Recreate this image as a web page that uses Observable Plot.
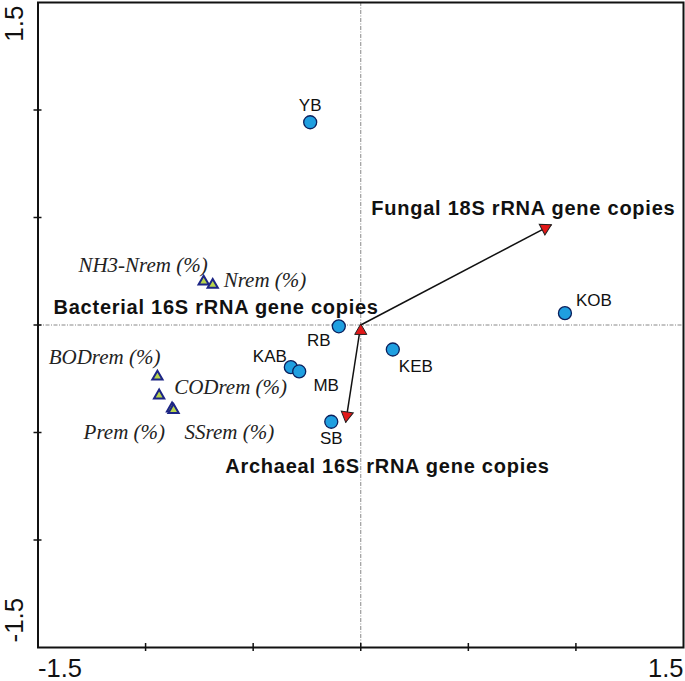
<!DOCTYPE html>
<html><head><meta charset="utf-8">
<script src="https://cdn.jsdelivr.net/npm/d3@7"></script>
<script src="https://cdn.jsdelivr.net/npm/@observablehq/plot@0.6"></script>
<style>body{margin:0;background:#fff} #chart svg{display:block}</style>
</head><body><div id="chart"></div>
<script>
// Sites (circles)
const sites = ["YB", "RB", "KAB", "MB", "KEB", "KOB", "SB"];
const siteX = [-0.235, -0.102, -0.325, -0.286, 0.149, 0.949, -0.137];
const siteY = [0.943, -0.006, -0.196, -0.216, -0.114, 0.055, -0.450];

// Environmental variables (triangles)
const envVars = ["NH3-Nrem (%)", "Nrem (%)", "BODrem (%)", "CODrem (%)", "Prem (%)", "SSrem (%)"];
const envX = [-0.730, -0.688, -0.945, -0.937, -0.877, -0.870];
const envY = [0.202, 0.187, -0.240, -0.328, -0.388, -0.395];

// Gene copy vectors (arrows)
const genes = ["Bacterial 16S rRNA gene copies", "Fungal 18S rRNA gene copies", "Archaeal 16S rRNA gene copies"];
const geneX = [0.0, 0.886, -0.070];
const geneY = [0.005, 0.466, -0.453];

// Axis ticks and labels
const axisTicks = [-1, -0.5, 0, 0.5, 1];
const xTickLabels = [-1.5, 1.5];
const yTickLabels = [-1.5, 1.5];

const siteData = sites.map((name, i) => ({name, x: siteX[i], y: siteY[i]}));
const envData = envVars.map((name, i) => ({name, x: envX[i], y: envY[i]}));
const headOffset = 0.0326;
const geneData = genes.map((name, i) => {
  const x = geneX[i], y = geneY[i];
  const len = Math.hypot(x, y);
  return {name, x, y, hx: x - x / len * headOffset, hy: y - y / len * headOffset,
          angle: Math.atan2(x, y) * 180 / Math.PI};
});

// label layout (pixel offsets)
const siteLabelLayout = {YB: [0, -17], RB: [-20, 14], KAB: [-21, -11], MB: [27, 14], KEB: [23, 17], KOB: [29, -13], SB: [0, 17]};
const envLabelLayout = {
  "NH3-Nrem (%)": ["end", 4, -16],
  "Nrem (%)": ["start", 11, -5],
  "BODrem (%)": ["end", 3, -19],
  "CODrem (%)": ["start", 15, -8],
  "Prem (%)": ["end", -7, 24],
  "SSrem (%)": ["start", 11, 22]
};
const geneLabelLayout = {
  "Bacterial 16S rRNA gene copies": ["end", 18, -16],
  "Fungal 18S rRNA gene copies": ["end", 124, -16],
  "Archaeal 16S rRNA gene copies": ["end", 204, 44]
};

const sans = "'Liberation Sans', Arial, sans-serif";
const serif = "'Liberation Serif', 'Times New Roman', serif";
const dash = "4,1.5,1,1.5";

const plot = Plot.plot({
  width: 685, height: 681,
  marginLeft: 37.5, marginRight: 2, marginTop: 2, marginBottom: 34,
  x: {domain: [-1.5, 1.5], axis: null},
  y: {domain: [-1.5, 1.5], axis: null},
  style: {background: "#fff", fontFamily: sans, overflow: "visible"},
  marks: [
    Plot.ruleX([0], {stroke: "#888", strokeDasharray: dash, strokeWidth: 1}),
    Plot.ruleY([0], {stroke: "#888", strokeDasharray: dash, strokeWidth: 1}),
    Plot.frame({stroke: "#111", strokeWidth: 2}),
    Plot.ruleY(axisTicks, {y: d => d, x1: -1.5, x2: -1.5, insetLeft: -4, insetRight: -4, stroke: "#111", strokeWidth: 1.5}),
    Plot.ruleX(axisTicks, {x: d => d, y1: -1.5, y2: -1.5, insetTop: -4, insetBottom: -4, stroke: "#111", strokeWidth: 1.5}),
    // tick labels
    Plot.text([xTickLabels[0]], {x: d => d, y: -1.5, text: d => String(d), textAnchor: "start", dy: 21, fontSize: 25.5, fill: "#111"}),
    Plot.text([xTickLabels[1]], {x: d => d, y: -1.5, text: d => String(d), textAnchor: "end", dy: 21, fontSize: 25.5, fill: "#111"}),
    Plot.text([yTickLabels[1]], {x: -1.5, y: d => d, text: d => String(d), textAnchor: "end", rotate: -90, dx: -23, dy: 3, fontSize: 26, fill: "#111"}),
    Plot.text([yTickLabels[0]], {x: -1.5, y: d => d, text: d => String(d), textAnchor: "start", rotate: -90, dx: -23, dy: -5, fontSize: 26, fill: "#111"}),
    // arrows
    Plot.link(geneData, {x1: 0, y1: 0, x2: "x", y2: "y", stroke: "#111", strokeWidth: 1.5}),
    Plot.dot(geneData, {x: "hx", y: "hy", symbol: "triangle", r: 4.5, rotate: "angle", fill: "#e21818", stroke: "#222", strokeWidth: 1}),
    // env triangles
    Plot.dot(envData, {x: "x", y: "y", symbol: "triangle", r: 3.8, fill: "#b8d44c", stroke: "#1c2585", strokeWidth: 2}),
    // sites
    Plot.dot(siteData, {x: "x", y: "y", r: 6.5, fill: "#1f9fe0", stroke: "#0b1f5c", strokeWidth: 1.3}),
    ...sites.map(name => Plot.text(siteData.filter(d => d.name === name), {
      x: "x", y: "y", text: "name", dx: siteLabelLayout[name][0], dy: siteLabelLayout[name][1],
      fontSize: 17, fill: "#111"})),
    ...envVars.map(name => Plot.text(envData.filter(d => d.name === name), {
      x: "x", y: "y", text: "name", textAnchor: envLabelLayout[name][0], dx: envLabelLayout[name][1], dy: envLabelLayout[name][2],
      fontSize: 21, fontStyle: "italic", fontFamily: serif, fill: "#222"})),
    ...genes.map(name => Plot.text(geneData.filter(d => d.name === name), {
      x: "x", y: "y", text: "name", textAnchor: geneLabelLayout[name][0], dx: geneLabelLayout[name][1], dy: geneLabelLayout[name][2],
      fontSize: 20, fontWeight: "bold", fill: "#111"}))
  ]
});
plot.querySelectorAll('g[font-weight="bold"]').forEach(g => g.setAttribute("letter-spacing", "0.75"));
document.getElementById("chart").appendChild(plot);
</script>
</body></html>
